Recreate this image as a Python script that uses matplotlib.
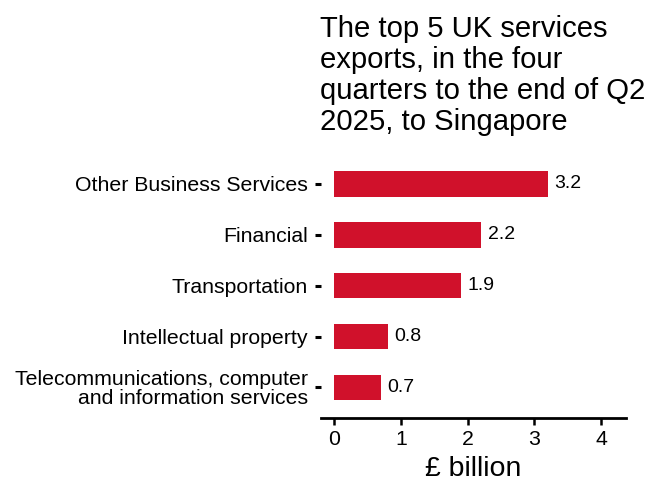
import matplotlib
matplotlib.use("Agg")
import matplotlib.pyplot as plt

# top 5 services exports to Singapore, four quarters to end of Q2 2025
categories = ["Telecommunications, computer\nand information services",
              "Intellectual property",
              "Transportation",
              "Financial",
              "Other Business Services"]
values = [0.7, 0.8, 1.9, 2.2, 3.2]
value_labels = ["0.7", "0.8", "1.9", "2.2", "3.2"]
x_ticks = [0, 1, 2, 3, 4]

title = "The top 5 UK services\nexports, in the four\nquarters to the end of Q2\n2025, to Singapore"

plt.rcParams['font.family'] = ['Liberation Sans', 'DejaVu Sans']

fig = plt.figure(figsize=(6.48, 4.82), dpi=100)
ax = fig.add_axes([0.4954, 0.1328, 0.4707, 0.5489])

pos = list(range(1, len(categories) + 1))
bars = ax.barh(pos, values, height=0.5, color='#D0112B')

for bar, lab in zip(bars, value_labels):
    ax.text(bar.get_width() + 0.1, bar.get_y() + bar.get_height() / 2, lab,
            va='center', ha='left', fontsize=14, color='black')

ax.set_xlim(-0.195, 4.37)
ax.set_ylim(0.4, 5.6)
ax.set_yticks(pos)
ax.set_yticklabels(categories, fontsize=15.3, linespacing=0.95)
ax.set_xticks(x_ticks)
ax.set_xticklabels([str(t) for t in x_ticks], fontsize=15.3)

for s in ['top', 'right', 'left']:
    ax.spines[s].set_visible(False)
ax.spines['bottom'].set_linewidth(2.0)
ax.tick_params(axis='y', length=4.5, width=2.2, pad=5)
ax.tick_params(axis='x', length=5, width=1.8, pad=4)

ax.set_xlabel("£ billion", fontsize=20.5)
ax.xaxis.set_label_coords(0.5, -0.145)

fig.text(0.494, 0.968, title, fontsize=21.1, ha='left', va='top', linespacing=1.13)

fig.savefig("out.png", dpi=100)
